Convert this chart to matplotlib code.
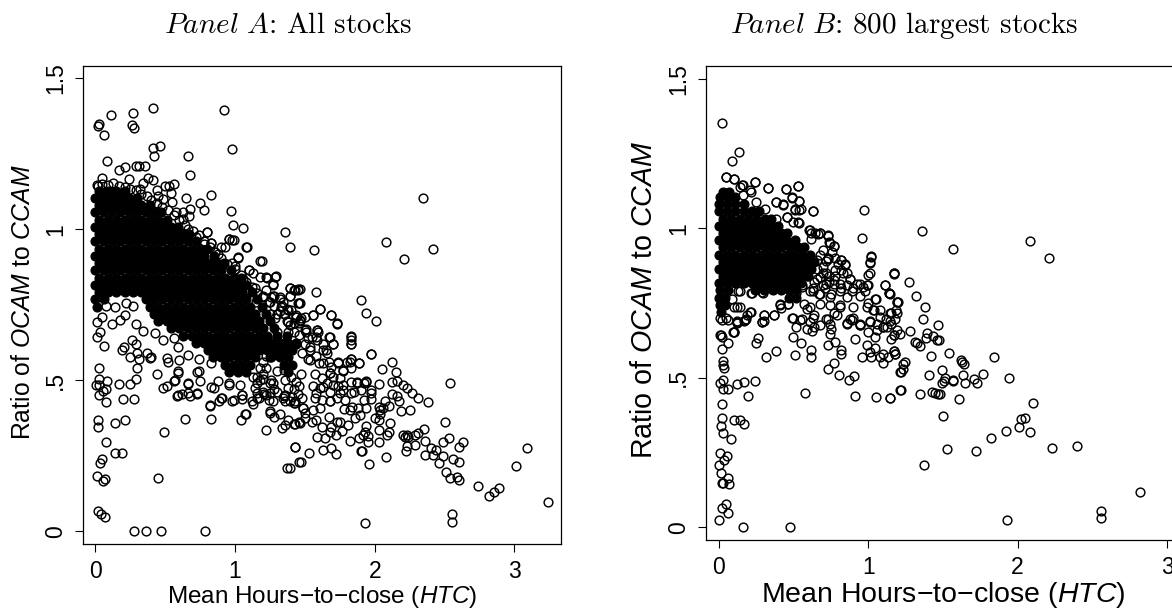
import matplotlib
matplotlib.use("Agg")
import matplotlib.pyplot as plt

plt.rcParams["font.family"] = ["Liberation Sans", "DejaVu Sans"]
plt.rcParams["mathtext.fontset"] = "custom"
plt.rcParams["mathtext.rm"] = "Liberation Sans"
plt.rcParams["mathtext.it"] = "Liberation Sans:italic"

W, H = 1172, 609

x_ticks = [0, 1, 2, 3]
y_ticks = [0, 0.5, 1, 1.5]
y_tick_labels = ["0", ".5", "1", "1.5"]

# solid part of the cloud, read row by row
a_core_y = [1.128, 1.104, 1.08, 1.056, 1.032, 1.008, 0.984, 0.96, 0.936, 0.912, 0.888, 0.864, 0.84, 0.816, 0.792,
            0.768, 0.744, 0.72, 0.696, 0.672, 0.648, 0.624, 0.6, 0.576, 0.552, 0.528]
a_core_x = [
    [0.03, 0.09, 0.15, 0.21],
    [0.0, 0.06, 0.12, 0.18, 0.24, 0.3],
    [0.03, 0.09, 0.15, 0.21, 0.27, 0.33, 0.39],
    [0.0, 0.06, 0.12, 0.18, 0.24, 0.3, 0.36, 0.42, 0.47],
    [0.03, 0.09, 0.15, 0.21, 0.27, 0.33, 0.39, 0.45, 0.51],
    [0.0, 0.06, 0.12, 0.18, 0.24, 0.3, 0.36, 0.42, 0.48, 0.54, 0.59],
    [0.03, 0.09, 0.15, 0.21, 0.27, 0.33, 0.39, 0.45, 0.51, 0.57, 0.63, 0.67],
    [0.0, 0.06, 0.12, 0.18, 0.24, 0.3, 0.36, 0.42, 0.48, 0.54, 0.6, 0.66, 0.72],
    [0.03, 0.09, 0.15, 0.21, 0.27, 0.33, 0.39, 0.45, 0.51, 0.57, 0.63, 0.69, 0.75, 0.8],
    [0.0, 0.06, 0.12, 0.18, 0.24, 0.3, 0.36, 0.42, 0.48, 0.54, 0.6, 0.66, 0.72, 0.78, 0.85],
    [0.03, 0.09, 0.15, 0.21, 0.27, 0.33, 0.39, 0.45, 0.51, 0.57, 0.63, 0.69, 0.75, 0.81, 0.87, 0.92],
    [0.0, 0.06, 0.12, 0.18, 0.24, 0.3, 0.36, 0.42, 0.48, 0.54, 0.6, 0.66, 0.72, 0.78, 0.84, 0.9, 0.97],
    [0.03, 0.09, 0.15, 0.21, 0.27, 0.33, 0.39, 0.45, 0.51, 0.57, 0.63, 0.69, 0.75, 0.81, 0.87, 0.93, 0.99, 1.04],
    [0.0, 0.06, 0.12, 0.18, 0.24, 0.3, 0.36, 0.42, 0.48, 0.54, 0.6, 0.66, 0.72, 0.78, 0.84, 0.9, 0.96, 1.02, 1.08],
    [0.03, 0.09, 0.15, 0.21, 0.27, 0.33, 0.39, 0.45, 0.51, 0.57, 0.63, 0.69, 0.75, 0.81, 0.87, 0.93, 0.99, 1.05, 1.12],
    [0.0, 0.06, 0.36, 0.42, 0.48, 0.54, 0.6, 0.66, 0.72, 0.78, 0.84, 0.9, 0.96, 1.02, 1.08, 1.16],
    [0.01, 0.39, 0.45, 0.51, 0.57, 0.63, 0.69, 0.75, 0.81, 0.87, 0.93, 0.99, 1.05, 1.11, 1.19],
    [0.42, 0.48, 0.54, 0.6, 0.66, 0.72, 0.78, 0.84, 0.9, 0.96, 1.02, 1.08, 1.14, 1.22],
    [0.45, 0.51, 0.57, 0.63, 0.69, 0.75, 0.81, 0.87, 0.93, 0.99, 1.05, 1.11, 1.17, 1.25],
    [0.54, 0.6, 0.66, 0.72, 0.78, 0.84, 0.9, 0.96, 1.02, 1.08, 1.14, 1.2, 1.28],
    [0.63, 0.69, 0.75, 0.81, 0.87, 0.93, 0.99, 1.05, 1.11, 1.17, 1.23, 1.3, 1.37],
    [0.72, 0.78, 0.84, 0.9, 0.96, 1.02, 1.08, 1.14, 1.2, 1.26, 1.32, 1.38, 1.44],
    [0.81, 0.87, 0.93, 0.99, 1.05, 1.11, 1.17, 1.23, 1.29, 1.35, 1.41],
    [0.84, 0.9, 0.96, 1.02, 1.08, 1.14, 1.26, 1.32, 1.38],
    [0.93, 0.99, 1.05, 1.11, 1.35, 1.41],
    [0.96, 1.02, 1.08, 1.38],
]

a_x = [0.02, 0.03, 0.06, 0.11, 0.27, 0.26, 0.28, 0.41, 0.92, 0.98, 0.41, 0.46, 0.42, 0.666, 0.68, 0.085, 0.17, 0.21,
       0.29, 0.315, 0.355, 0.05, 0.01, 0.24, 0.38, 0.34, 0.41, 0.44, 0.5, 0.565, 0.53, 0.54, 0.487, 0.547, 0.65, 0.83,
       0.75, 0.78, 0.68, 0.625, 0.67, 0.58, 0.625, 0.97, 0.985, 1.06, 0.8, 1.36, 1.39, 1.085, 0.99, 0.955, 0.93, 0.83,
       1.19, 1.02, 1.1, 1.13, 1.18, 1.23, 1.286, 1.27, 1.393, 1.42, 1.45, 1.275, 1.32, 1.39, 1.45, 1.38, 1.333, 1.44,
       1.286, 1.37, 1.39, 1.46, 0.14, 0.08, 0.22, 0.21, 0.27, 0.18, 0.12, 0.29, 0.01, 0.045,
       0.01, 0.034, 0.06, 0.19, 0.205, 0.26, 0.29, 0.245, 0.3, 0.315, 0.37, 0.4, 0.39, 0.295, 0.29, 0.25, 0.17, 0.03,
       0.085, 0.03, 0.005, 0.03, 0.075, 0.058, 0.03, 0.08, 0.195, 0.28, 0.02, 0.02, 0.14, 0.21, 0.49, 0.64, 0.83, 0.08,
       0.14, 0.19, 0.045, 0.035, 0.015, 0.07, 0.058, 0.447, 0.017, 0.04, 0.07, 0.275, 0.36, 0.47, 0.785,
       0.34, 0.427, 0.485, 0.51, 0.52, 0.44, 0.595, 0.57, 0.56, 0.51, 0.487, 0.66, 0.582, 0.62, 0.68, 0.73, 0.75, 0.725,
       0.85, 0.88, 0.82, 0.888, 0.91, 0.98, 1.05, 1.05, 0.96, 1.035, 1.13, 1.155, 1.04, 1.08, 1.22, 1.25, 1.24, 1.21,
       1.155, 1.13, 1.28, 1.25, 1.32, 1.335, 1.36, 1.38, 1.43, 1.46, 1.43, 1.375, 1.46, 1.345, 1.36, 1.43, 1.275, 1.2,
       3.243, 3.09, 3.01, 2.89, 2.855, 2.815, 2.74, 2.6, 2.59, 2.54, 2.51, 2.6, 2.56, 2.46, 2.49, 2.42, 2.36, 2.4, 2.44,
       2.6, 2.63, 2.53, 2.49, 2.5, 2.54, 2.55, 2.55, 1.93, 2.38, 2.31, 2.27, 2.23, 2.2, 2.16, 2.12, 2.15, 2.12, 2.05,
       1.975, 2.03, 1.83, 1.83, 1.83, 1.885, 1.83, 1.82, 1.83, 1.735, 1.77, 1.83, 1.87, 1.94, 1.92, 1.97, 1.975, 1.9,
       1.92, 1.85, 1.775, 1.7, 1.68, 1.73, 1.79, 1.62, 1.57, 1.61, 1.68, 2.12, 2.16, 2.175, 2.07, 2.1, 2.25, 2.19, 2.03,
       2.04, 2.03, 2.0, 2.04, 2.06, 2.11, 2.105, 2.09, 2.03, 2.03, 1.96, 2.08, 1.9, 1.91, 1.95, 1.955, 1.915, 1.89, 1.82,
       1.94, 1.93, 1.94, 1.895, 1.86, 1.82, 1.78, 1.835, 1.88, 1.81, 1.75, 1.73, 1.67, 1.765, 1.72, 1.68, 1.69, 1.645,
       1.585, 1.62, 1.58, 1.55, 1.5, 1.465, 1.425, 1.63, 1.69, 1.72, 1.53, 1.47, 1.43, 1.39, 2.23, 2.2, 2.24, 2.22, 2.31,
       2.35, 2.29, 2.23, 2.285, 2.225, 2.36, 1.595, 1.68, 1.7, 1.65, 1.51, 1.465, 1.63, 1.67, 1.54, 1.57, 1.62, 1.7, 1.75,
       1.775, 1.66, 1.61, 1.56, 1.74, 1.68, 1.54, 1.585, 1.63, 1.55, 1.66, 1.69, 1.6, 1.49, 1.5,
       2.348, 2.08, 2.21, 2.42, 1.565, 1.9, 1.94, 2.01, 1.58, 1.465, 1.43, 1.465, 1.61, 1.555, 1.69, 1.73, 1.5, 1.465,
       1.44, 1.4, 1.42, 1.51, 1.59,
       1.2, 1.25, 1.3, 1.35, 1.38, 1.42, 1.3, 1.25, 1.2, 1.15, 1.22, 1.28, 1.34, 1.46, 1.5, 1.54, 1.58, 1.52, 1.1, 1.0, 0.9]
a_y = [1.342, 1.35, 1.312, 1.378, 1.384, 1.345, 1.336, 1.403, 1.395, 1.265, 1.268, 1.275, 1.243, 1.242, 1.179, 1.225,
       1.197, 1.208, 1.21, 1.21, 1.21, 1.17, 1.147, 1.168, 1.17, 1.155, 1.165, 1.13, 1.142, 1.15, 1.145, 1.12, 1.1, 1.09,
       1.104, 1.113, 1.086, 1.064, 1.067, 1.059, 1.045, 1.057, 1.033, 1.06, 1.015, 1.004, 0.99, 0.99, 0.94, 0.94, 0.966,
       0.968, 0.94, 0.955, 0.896, 0.904, 0.865, 0.857, 0.843, 0.84, 0.843, 0.818, 0.805, 0.8, 0.803, 0.778, 0.776, 0.778,
       0.755, 0.733, 0.745, 0.716, 0.706, 0.695, 0.684, 0.69, 0.742, 0.745, 0.755, 0.716, 0.745, 0.7, 0.687, 0.687, 0.693,
       0.71,
       0.645, 0.66, 0.615, 0.6, 0.61, 0.632, 0.622, 0.578, 0.59, 0.57, 0.592, 0.576, 0.573, 0.54, 0.503, 0.488, 0.487,
       0.54, 0.498, 0.503, 0.485, 0.485, 0.472, 0.466, 0.451, 0.427, 0.437, 0.437, 0.368, 0.344, 0.358, 0.368, 0.328,
       0.373, 0.373, 0.297, 0.258, 0.26, 0.238, 0.225, 0.183, 0.172, 0.165, 0.178, 0.066, 0.058, 0.047, 0.0, 0.0, 0.0, 0.0,
       0.664, 0.656, 0.634, 0.573, 0.562, 0.521, 0.525, 0.501, 0.498, 0.48, 0.474, 0.488, 0.448, 0.455, 0.449, 0.455, 0.498,
       0.529, 0.476, 0.498, 0.415, 0.43, 0.44, 0.43, 0.437, 0.45, 0.485, 0.485, 0.42, 0.44, 0.37, 0.388, 0.335, 0.4, 0.436,
       0.455, 0.49, 0.512, 0.38, 0.393, 0.39, 0.343, 0.352, 0.368, 0.355, 0.363, 0.28, 0.21, 0.228, 0.44, 0.43, 0.43, 0.49,
       0.505,
       0.096, 0.275, 0.215, 0.144, 0.13, 0.117, 0.15, 0.17, 0.181, 0.178, 0.197, 0.228, 0.24, 0.226, 0.25, 0.253, 0.253,
       0.275, 0.269, 0.278, 0.295, 0.31, 0.295, 0.361, 0.49, 0.056, 0.032, 0.026, 0.427, 0.441, 0.457, 0.473, 0.483, 0.498,
       0.495, 0.526, 0.562, 0.536, 0.587, 0.488, 0.648, 0.635, 0.622, 0.556, 0.57, 0.562, 0.54, 0.559, 0.531, 0.495, 0.495,
       0.498, 0.49, 0.468, 0.438, 0.468, 0.435, 0.462, 0.468, 0.484, 0.462, 0.44, 0.435, 0.435, 0.44, 0.408, 0.43, 0.455,
       0.448, 0.43, 0.432, 0.415, 0.402, 0.397, 0.413, 0.39, 0.368, 0.374, 0.402, 0.408, 0.36, 0.33, 0.319, 0.295, 0.336,
       0.222, 0.245, 0.267, 0.266, 0.297, 0.315, 0.319, 0.308, 0.3, 0.349, 0.33, 0.408, 0.386, 0.374, 0.402, 0.405, 0.413,
       0.408, 0.352, 0.363, 0.363, 0.38, 0.332, 0.319, 0.33, 0.344, 0.308, 0.313, 0.344, 0.368, 0.363, 0.374, 0.36, 0.355,
       0.27, 0.276, 0.256, 0.26, 0.228, 0.28, 0.21, 0.319, 0.319, 0.314, 0.312, 0.327, 0.338, 0.319, 0.282, 0.286, 0.267,
       0.3, 0.66, 0.643, 0.622, 0.6, 0.66, 0.695, 0.556, 0.562, 0.567, 0.52, 0.507, 0.512, 0.507, 0.484, 0.49, 0.474, 0.48,
       0.48, 0.523, 0.612, 0.634, 0.622, 0.643, 0.59, 0.545, 0.556, 0.408, 0.393,
       1.105, 0.959, 0.901, 0.936, 0.93, 0.767, 0.724, 0.695, 0.794, 0.801, 0.8, 0.757, 0.735, 0.715, 0.717, 0.689, 0.71,
       0.7, 0.71, 0.733, 0.69, 0.67, 0.667,
       0.78, 0.76, 0.72, 0.72, 0.66, 0.66, 0.66, 0.72, 0.72, 0.76, 0.8, 0.78, 0.76, 0.65, 0.62, 0.6, 0.58, 0.64, 0.8, 0.88, 0.94]

# rings hugging the edge of the solid part, panel A
a_edge_x = [0.8, 0.83, 0.96, 0.98, 1.08, 1.02, 1.18, 1.1, 1.22, 1.29, 1.27, 1.39, 1.45, 1.39, 1.32, 1.46, 1.33, 1.37, 1.61,
            1.555, 1.69, 1.73, 1.47, 1.44, 1.38, 1.5, 1.59, 1.58, 1.675, 1.7, 1.63, 1.83, 1.83, 1.97, 1.74, 1.89, 1.83, 1.8,
            1.68, 1.77, 1.94, 1.87, 1.97, 1.83, 1.75, 1.68, 1.58, 1.63, 1.25, 1.35, 1.16, 1.35, 1.42, 1.49, 1.56, 1.25, 1.16,
            1.05, 0.99, 0.9, 0.82, 0.73, 0.66, 0.59, 0.59, 0.66, 0.74, 0.83, 0.66, 0.6, 0.74, 0.59, 0.56, 0.83, 0.96, 1.07,
            0.02, 0.05, 0.09, 0.13, 0.17, 0.21, 0.25, 0.29, 0.33, 0.37, 0.32, 0.4, 0.44, 0.48, 0.45, 0.52, 0.56, 0.6, 0.64,
            0.7, 0.66, 0.74, 0.78, 0.72, 0.82, 0.86, 0.78, 0.9, 0.94, 0.88, 1.0, 1.04, 0.98, 1.08, 1.12, 1.06, 1.16, 1.2, 1.14,
            1.24, 1.28, 1.26, 1.32, 1.36, 1.2, 1.22, 1.18, 1.3, 1.34, 1.28, 1.4, 1.44, 1.48, 1.52, 1.2, 1.26, 1.3, 1.18,
            1.22, 1.28, 1.14, 1.2, 1.25, 1.3, 1.12, 1.17, 1.22, 1.27,
            1.36, 1.4, 1.44, 1.47, 1.38, 1.42, 1.46, 1.36, 1.41, 1.45, 1.39, 1.43, 1.48]
a_edge_y = [0.992, 0.956, 0.968, 0.965, 0.943, 0.907, 0.896, 0.866, 0.843, 0.845, 0.816, 0.805, 0.8, 0.78, 0.77, 0.757, 0.744,
            0.735, 0.735, 0.716, 0.718, 0.688, 0.705, 0.71, 0.694, 0.666, 0.666, 0.644, 0.642, 0.622, 0.6, 0.644, 0.622,
            0.588, 0.56, 0.558, 0.57, 0.56, 0.523, 0.534, 0.495, 0.49, 0.457, 0.457, 0.457, 0.43, 0.457, 0.478, 0.578, 0.534,
            0.512, 0.447, 0.425, 0.408, 0.402, 0.457, 0.457, 0.452, 0.435, 0.44, 0.419, 0.457, 0.457, 0.452, 0.53, 0.49, 0.53,
            0.556, 0.584, 0.567, 0.57, 0.611, 0.64, 0.479, 0.49, 0.39,
            1.145, 1.15, 1.148, 1.152, 1.145, 1.14, 1.135, 1.13, 1.118, 1.11, 1.135, 1.098, 1.088, 1.075, 1.11, 1.065, 1.048,
            1.03, 1.016, 0.995, 1.0, 0.98, 0.96, 0.975, 0.94, 0.925, 0.95, 0.905, 0.885, 0.92, 0.87, 0.85, 0.89, 0.825, 0.81,
            0.835, 0.79, 0.775, 0.805, 0.76, 0.745, 0.775, 0.73, 0.72, 0.56, 0.58, 0.54, 0.6, 0.62, 0.63, 0.6, 0.62, 0.59,
            0.57, 0.52, 0.5, 0.53, 0.5, 0.54, 0.47, 0.475, 0.46, 0.49, 0.46, 0.43, 0.44, 0.45, 0.43,
            0.5, 0.51, 0.495, 0.52, 0.475, 0.47, 0.48, 0.45, 0.445, 0.455, 0.43, 0.425, 0.44]

b_core_y = [1.12, 1.104, 1.08, 1.056, 1.032, 1.008, 0.984, 0.96, 0.936, 0.912, 0.888, 0.864, 0.84, 0.816, 0.792, 0.768,
            0.744, 0.72]
b_core_x = [
    [0.03, 0.07],
    [0.01, 0.06, 0.11],
    [0.0, 0.056, 0.112, 0.168],
    [0.0, 0.056, 0.112, 0.168, 0.224, 0.27],
    [0.028, 0.084, 0.14, 0.196, 0.252, 0.308, 0.35],
    [0.0, 0.056, 0.112, 0.168, 0.224, 0.28, 0.336, 0.4],
    [0.028, 0.084, 0.14, 0.196, 0.252, 0.308, 0.364, 0.42, 0.46],
    [0.0, 0.056, 0.112, 0.168, 0.224, 0.28, 0.336, 0.392, 0.448, 0.51],
    [0.028, 0.084, 0.14, 0.196, 0.252, 0.308, 0.364, 0.42, 0.476, 0.532, 0.57],
    [0.0, 0.056, 0.112, 0.168, 0.224, 0.28, 0.336, 0.392, 0.448, 0.504, 0.56, 0.61],
    [0.028, 0.084, 0.14, 0.196, 0.252, 0.308, 0.364, 0.42, 0.476, 0.532, 0.588, 0.64],
    [0.0, 0.056, 0.112, 0.168, 0.224, 0.28, 0.336, 0.392, 0.448, 0.504, 0.56, 0.616],
    [0.028, 0.084, 0.14, 0.196, 0.252, 0.308, 0.364, 0.42, 0.476, 0.532, 0.59],
    [0.0, 0.056, 0.112, 0.168, 0.224, 0.28, 0.336, 0.392, 0.448, 0.504, 0.55],
    [0.01, 0.06, 0.24, 0.3, 0.36, 0.42, 0.47, 0.52],
    [0.0, 0.04, 0.47, 0.52],
    [0.01, 0.04],
    [0.015],
]

b_x = [0.022, 0.134, 0.087, 0.05, 0.1, 0.24, 0.16, 0.14, 0.215, 0.33, 0.45, 0.53, 0.49, 0.38, 0.43, 0.54, 0.51, 0.55, 0.63,
       0.97, 0.96, 0.455, 0.5, 0.54, 0.605, 0.62, 0.68, 0.665, 0.73, 0.74, 0.77, 1.02, 1.01, 1.17, 1.01, 0.82, 0.845, 0.73,
       0.88, 1.0, 1.11, 1.14, 1.05, 1.195, 0.98, 0.945, 0.9, 0.855, 0.81, 0.77, 0.72, 0.68, 0.555, 0.63, 0.68, 0.745, 0.81,
       0.9, 0.99, 1.04, 1.15, 1.19, 1.12, 1.08, 0.77, 0.72, 0.9, 0.88, 0.945, 1.01, 1.06, 1.1, 1.15, 0.59, 0.61, 0.465, 0.41,
       0.42, 0.5, 0.555, 0.63, 0.37, 0.3, 0.3, 0.215, 0.19, 0.18, 0.14, 0.1, 0.12, 0.01, 0.05, 0.22, 0.13, 0.295, 0.355, 0.1,
       0.013, 0.02, 0.065, 0.024, 0.097, 0.12, 0.17, 0.03, 0.03, 0.035, 0.265, 0.25, 0.38, 0.315, 0.292, 0.495, 0.55, 0.513,
       0.615, 0.615, 0.59, 0.625, 0.73, 0.78, 0.82, 0.82, 0.77, 0.73, 0.807, 0.907, 0.87, 0.58, 0.91, 1.05, 1.148, 0.91, 0.96,
       0.99, 1.02, 1.045, 1.01, 1.08, 1.1, 1.1, 1.135, 1.17, 1.18, 1.21, 1.21, 1.0, 1.045, 1.06, 1.1, 1.15, 1.17, 0.945, 0.855,
       0.745, 0.75, 0.745, 0.68, 0.61, 0.52,
       0.01, 0.03, 0.027, 0.06, 0.125, 0.17, 0.245, 0.195, 0.02, 0.024, 0.013, 0.1, 0.14, 0.17, 0.03, 0.08, 0.01, 0.053, 0.035,
       0.002, 0.018, 0.06, 0.07, 0.022, 0.03, 0.05, 0.02, 0.065, 0.0, 0.165, 0.477,
       1.36, 1.57, 2.08, 2.21, 1.17, 1.27, 1.32, 1.2, 1.38, 1.185, 1.37, 1.47, 1.18, 1.146, 1.146,
       1.28, 1.213, 1.173, 1.395, 1.435, 1.39, 1.46, 1.475, 1.314, 1.325, 1.35, 1.173, 1.18, 1.42, 1.54, 1.84, 1.62, 1.63, 1.64,
       1.246, 1.235, 1.235, 1.218, 1.495, 1.41, 1.945, 1.77, 1.705, 1.73, 1.65, 1.635, 1.57, 1.565, 1.515, 1.505, 1.495, 1.43,
       1.45, 1.47, 1.48, 1.35, 1.217, 1.146, 1.61, 1.5, 2.1, 2.05, 2.02, 2.01, 2.085, 1.92, 1.82, 1.72, 1.525, 1.375, 2.23, 2.4,
       2.82, 2.56, 2.56, 1.93]
b_y = [1.353, 1.255, 1.226, 1.17, 1.166, 1.155, 1.144, 1.138, 1.122, 1.133, 1.13, 1.14, 1.1, 1.086, 1.08, 1.09, 1.063, 1.063,
       1.057, 1.06, 0.968, 1.038, 1.02, 1.018, 0.993, 0.985, 0.983, 0.98, 0.975, 0.955, 0.94, 0.906, 0.885, 0.849, 0.849, 0.893,
       0.878, 0.898, 0.829, 0.81, 0.81, 0.785, 0.765, 0.755, 0.79, 0.815, 0.8, 0.77, 0.815, 0.826, 0.815, 0.837, 0.805, 0.79,
       0.78, 0.77, 0.737, 0.737, 0.737, 0.725, 0.716, 0.716, 0.695, 0.725, 0.716, 0.695, 0.7, 0.695, 0.68, 0.69, 0.68, 0.67, 0.68,
       0.731, 0.737, 0.746, 0.743, 0.733, 0.7, 0.695, 0.7, 0.709, 0.709, 0.69, 0.72, 0.709, 0.695, 0.737, 0.737, 0.69, 0.7, 0.7,
       0.784, 0.79, 0.784, 0.8, 0.654,
       0.642, 0.635, 0.615, 0.596, 0.654, 0.684, 0.69, 0.556, 0.542, 0.534, 0.634, 0.615, 0.59, 0.57, 0.687, 0.637, 0.617, 0.576,
       0.592, 0.57, 0.662, 0.657, 0.61, 0.62, 0.592, 0.579, 0.548, 0.529, 0.509, 0.507, 0.492, 0.45, 0.439, 0.437, 0.432, 0.63,
       0.57, 0.611, 0.57, 0.598, 0.587, 0.57, 0.581, 0.548, 0.57, 0.59, 0.581, 0.52, 0.459, 0.654, 0.637, 0.659, 0.67, 0.63, 0.642,
       0.676, 0.681, 0.648, 0.664, 0.681, 0.676, 0.687, 0.67,
       0.484, 0.492, 0.461, 0.464, 0.479, 0.486, 0.49, 0.439, 0.412, 0.367, 0.34, 0.358, 0.358, 0.344, 0.316, 0.297, 0.25, 0.238,
       0.227, 0.208, 0.183, 0.164, 0.145, 0.147, 0.147, 0.077, 0.064, 0.047, 0.024, 0.0, 0.0,
       0.992, 0.93, 0.958, 0.9, 0.847, 0.82, 0.774, 0.755, 0.737, 0.726, 0.696, 0.676, 0.697, 0.78, 0.69,
       0.656, 0.645, 0.642, 0.65, 0.639, 0.632, 0.628, 0.626, 0.618, 0.617, 0.606, 0.59, 0.578, 0.574, 0.584, 0.57, 0.561, 0.554,
       0.545, 0.553, 0.546, 0.531, 0.52, 0.527, 0.509, 0.499, 0.514, 0.496, 0.481, 0.484, 0.509, 0.489, 0.492, 0.498, 0.489, 0.481,
       0.454, 0.45, 0.445, 0.447, 0.445, 0.458, 0.433, 0.428, 0.372, 0.416, 0.367, 0.362, 0.334, 0.32, 0.322, 0.3, 0.256, 0.262,
       0.21, 0.264, 0.273, 0.117, 0.055, 0.031, 0.024]

# rings hugging the edge of the solid part, panel B
b_edge_x = [0.05, 0.1, 0.154, 0.24, 0.21, 0.33, 0.45, 0.53, 0.49, 0.38, 0.43, 0.54, 0.51, 0.54, 0.63, 0.46, 0.53, 0.38, 0.31,
            0.25, 0.165, 0.61, 0.645, 0.68, 0.73, 0.745, 0.77, 0.62, 0.7, 0.73, 0.82, 0.845, 0.78, 0.83, 0.88, 0.925, 0.965,
            0.995, 1.0, 1.01, 1.02, 1.11, 1.14, 1.17, 1.045, 1.19, 0.655, 0.655, 0.72, 0.7, 0.77, 0.81, 0.855, 0.89, 0.945, 1.0,
            1.035, 1.08, 1.125, 1.19, 1.145, 1.01, 0.945, 0.89, 0.855, 0.81, 0.745, 0.68, 0.635, 0.57, 0.61, 0.555, 0.52, 0.465,
            0.41, 0.355, 0.29, 0.215, 0.14, 0.09, 0.12, 0.21, 0.3, 0.37, 0.49, 0.545, 0.635, 0.73, 0.79, 0.1, 0.01, 0.02, 0.065,
            0.12, 0.175, 0.29,
            0.68, 0.72, 0.76, 0.8, 0.7, 0.74, 0.78, 0.82, 0.86, 0.66, 0.7, 0.74, 0.78, 0.82, 0.63, 0.67, 0.71, 0.75, 0.6, 0.64]
b_edge_y = [1.172, 1.166, 1.144, 1.153, 1.127, 1.133, 1.13, 1.14, 1.103, 1.086, 1.079, 1.09, 1.06, 1.062, 1.058, 1.038, 1.021,
            1.032, 1.065, 1.088, 1.11, 0.993, 0.984, 0.984, 0.976, 0.95, 0.94, 0.965, 0.926, 0.9, 0.895, 0.88, 0.86, 0.85, 0.83,
            0.815, 0.804, 0.81, 0.843, 0.887, 0.905, 0.81, 0.785, 0.85, 0.765, 0.755, 0.895, 0.862, 0.85, 0.81, 0.815, 0.79,
            0.81, 0.79, 0.775, 0.75, 0.726, 0.704, 0.67, 0.66, 0.715, 0.687, 0.676, 0.692, 0.682, 0.742, 0.742, 0.748, 0.71,
            0.748, 0.789, 0.81, 0.783, 0.748, 0.748, 0.798, 0.787, 0.784, 0.79, 0.765, 0.736, 0.72, 0.71, 0.71, 0.7, 0.694, 0.67,
            0.698, 0.709, 0.654, 0.643, 0.694, 0.694, 0.687, 0.694, 0.687,
            0.91, 0.89, 0.92, 0.88, 0.87, 0.84, 0.9, 0.86, 0.85, 0.83, 0.85, 0.82, 0.84, 0.8, 0.8, 0.78, 0.8, 0.78, 0.84, 0.82]


def px_rect(left, top, right, bottom):
    return [left / W, 1 - bottom / H, (right - left) / W, (bottom - top) / H]


def draw_panel(ax, xs, ys, core_x, core_y, xlim, ylim):
    for row_x, row_y in zip(core_x, core_y):
        ax.plot(row_x, [row_y] * len(row_x), "o", ms=6.3, mfc="black", mec="black", mew=1.0, clip_on=False)
    ax.plot(xs, ys, "o", ms=6.3, mfc="none", mec="black", mew=1.05, clip_on=False)
    ax.set_xlim(xlim)
    ax.set_ylim(ylim)
    ax.set_xticks(x_ticks)
    ax.set_yticks(y_ticks)
    ax.set_yticklabels(y_tick_labels, rotation=90, va="center")
    ax.tick_params(length=5.5, width=0.8, labelsize=16.5, pad=6)
    for s in ax.spines.values():
        s.set_linewidth(0.9)


fig = plt.figure(figsize=(W / 100, H / 100), dpi=100)

ax1 = fig.add_axes(px_rect(83, 65.7, 560.7, 544))
draw_panel(ax1, a_x + a_edge_x, a_y + a_edge_y, a_core_x, a_core_y, (-0.088, 3.331), (-0.042, 1.542))
ax2 = fig.add_axes(px_rect(706, 65.7, 1190, 540))
draw_panel(ax2, b_x + b_edge_x, b_y + b_edge_y, b_core_x, b_core_y, (-0.085, 3.153), (-0.042, 1.543))

fig.text(322 / W, 1 - 602.5 / H, r"Mean Hours$-$to$-$close ($\mathit{HTC}$)", ha="center", va="baseline", fontsize=17.5)
fig.text(943 / W, 1 - 601.5 / H, r"Mean Hours$-$to$-$close ($\mathit{HTC}$)", ha="center", va="baseline", fontsize=20.5)
fig.text(23 / W, 1 - 302 / H, r"Ratio of $\mathit{OCAM}$ to $\mathit{CCAM}$", rotation=90, ha="center", va="center",
         fontsize=17.8)
fig.text(644 / W, 1 - 300 / H, r"Ratio of $\mathit{OCAM}$ to $\mathit{CCAM}$", rotation=90, ha="center", va="center",
         fontsize=20.6)
fig.text(412 / W, 1 - 33 / H, r"$\mathit{Panel\ A}$: All stocks", ha="right", va="baseline", fontsize=21,
         family="cmr10", math_fontfamily="cm")
fig.text(1078 / W, 1 - 33 / H, r"$\mathit{Panel\ B}$: 800 largest stocks", ha="right", va="baseline",
         fontsize=21, family="cmr10", math_fontfamily="cm")

fig.savefig("out.png", dpi=100)
